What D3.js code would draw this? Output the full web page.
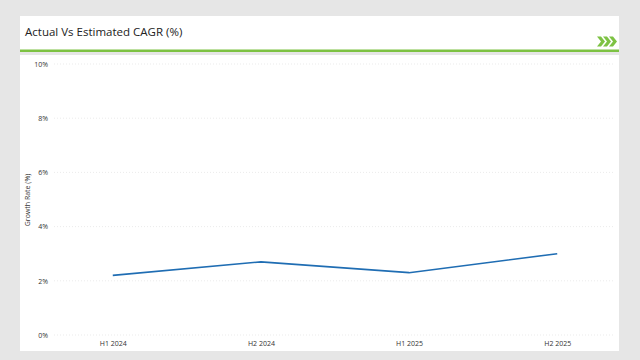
<!DOCTYPE html>
<html><head><meta charset="utf-8">
<script src="https://cdn.jsdelivr.net/npm/d3@7"></script>
<style>html,body{margin:0;padding:0;background:#e6e6e6;}svg{display:block;}</style>
</head><body>
<svg id="c" width="640" height="360"></svg>
<script>
const categories = ["H1 2024", "H2 2024", "H1 2025", "H2 2025"];
const growthValues = [2.2, 2.7, 2.3, 3.0];
const yTicks = [0, 2, 4, 6, 8, 10];
const chartTitle = "Actual Vs Estimated CAGR (%)";
const yAxisTitle = "Growth Rate (%)";

const svg = d3.select("#c");
const font = "'Open Sans', 'Noto Sans', sans-serif";

// panels
svg.append("rect").attr("x", 0).attr("y", 0).attr("width", 640).attr("height", 360).attr("fill", "#e6e6e6");
svg.append("rect").attr("x", 20).attr("y", 16).attr("width", 599).attr("height", 34).attr("fill", "#fff");
svg.append("rect").attr("x", 20).attr("y", 49.5).attr("width", 599).attr("height", 2.5).attr("fill", "#7dc243");
svg.append("rect").attr("x", 20).attr("y", 55).attr("width", 599).attr("height", 296).attr("fill", "#fff");

svg.append("text").attr("x", 25).attr("y", 36).text(chartTitle)
  .attr("font-family", font).attr("font-size", 11.5).attr("fill", "#222");

// chevrons
const chev = svg.append("g").attr("fill", "#7dc243");
[0, 6, 12].forEach(dx => {
  const x0 = 597 + dx;
  chev.append("path").attr("d", `M${x0},36.5 L${x0+4},36.5 L${x0+8},41.5 L${x0+4},46.5 L${x0},46.5 L${x0+4},41.5 Z`);
});

const x = d3.scalePoint().domain(categories).range([55, 615]).padding(0.39);
const y = d3.scaleLinear().domain([0, 10]).range([335, 64]);

// grid
svg.append("g").selectAll("line").data(yTicks).join("line")
  .attr("x1", 54).attr("x2", 615)
  .attr("y1", d => y(d)).attr("y2", d => y(d))
  .attr("stroke", "#e2e2e2").attr("stroke-width", 0.7).attr("stroke-dasharray", "1,2");

// y axis
const yAxis = svg.append("g").attr("transform", "translate(51,0)")
  .call(d3.axisLeft(y).tickValues(yTicks).tickSize(0).tickFormat(d => d + "%"));
yAxis.select(".domain").remove();
yAxis.selectAll("text").attr("font-family", font).attr("font-size", 7).attr("fill", "#333").attr("dx", 0);

// x axis
const xAxis = svg.append("g").attr("transform", "translate(0,337)")
  .call(d3.axisBottom(x).tickSize(0));
xAxis.select(".domain").remove();
xAxis.selectAll("text").attr("font-family", font).attr("font-size", 7).attr("fill", "#333").attr("dy", "0.9em");

svg.append("text").attr("transform", "translate(30,200) rotate(-90)")
  .attr("text-anchor", "middle").text(yAxisTitle)
  .attr("font-family", font).attr("font-size", 7).attr("fill", "#333");

const line = d3.line().x((d, i) => x(categories[i])).y(d => y(d));
svg.append("path").datum(growthValues).attr("d", line)
  .attr("fill", "none").attr("stroke", "#1f6db3").attr("stroke-width", 1.6);
</script>
</body></html>
